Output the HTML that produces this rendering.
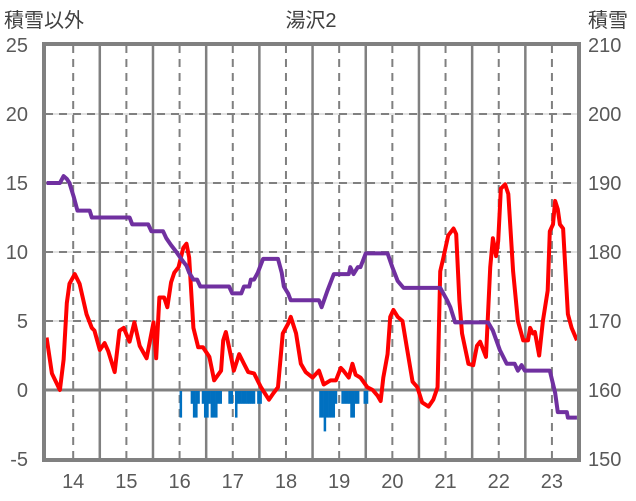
<!DOCTYPE html>
<html><head><meta charset="utf-8"><style>
html,body{margin:0;padding:0;background:#fff;}
svg{display:block;font-family:"Liberation Sans","Noto Sans CJK JP",sans-serif;}
</style></head><body>
<svg id="chart" width="636" height="501" viewBox="0 0 636 501" xmlns="http://www.w3.org/2000/svg">
<text x="311" y="27" font-size="20" fill="#404040" text-anchor="middle">湯沢2</text>
<text x="4" y="27" font-size="20" fill="#404040">積雪以外</text>
<text x="588" y="27" font-size="20" fill="#404040">積雪</text>
<g id="grid"></g>
<g id="bars"></g>
<g id="lines"></g>
<g id="axes"></g>
</svg>
<script>
const dayTicks=[14,15,16,17,18,19,20,21,22,23];
const leftTicks=[25,20,15,10,5,0,-5];
const rightTicks=[210,200,190,180,170,160,150];
const redTimes=[13.50,13.60,13.75,13.82,13.88,13.93,14.03,14.12,14.25,14.35,14.40,14.50,14.59,14.66,14.78,14.87,14.95,15.06,15.15,15.25,15.38,15.51,15.56,15.62,15.71,15.77,15.84,15.90,15.98,16.07,16.13,16.18,16.26,16.35,16.44,16.56,16.65,16.78,16.82,16.87,16.93,17.02,17.12,17.21,17.29,17.40,17.53,17.68,17.77,17.85,17.94,18.04,18.09,18.19,18.28,18.37,18.50,18.62,18.71,18.84,18.94,19.03,19.08,19.18,19.25,19.31,19.40,19.53,19.63,19.72,19.78,19.83,19.91,19.96,20.02,20.10,20.19,20.28,20.38,20.47,20.56,20.68,20.77,20.85,20.90,20.96,21.05,21.15,21.20,21.26,21.31,21.37,21.43,21.52,21.59,21.65,21.76,21.84,21.89,21.95,21.99,22.04,22.12,22.18,22.27,22.36,22.46,22.55,22.59,22.64,22.68,22.76,22.83,22.92,22.96,23.02,23.06,23.11,23.15,23.21,23.30,23.37,23.47];
const redValues=[3.8,1.2,0,2.2,6.3,7.7,8.4,7.7,5.5,4.5,4.3,2.9,3.4,2.8,1.3,4.3,4.5,3.5,4.9,3.2,2.3,4.9,2.3,6.7,6.7,6.0,7.8,8.5,8.9,10.3,10.6,9.6,4.5,3.1,3.1,2.4,0.7,1.4,3.6,4.2,3.1,1.4,2.6,1.9,1.3,1.2,0.2,-0.7,-0.2,0.2,4.1,4.8,5.3,4.1,1.9,1.3,0.9,1.4,0.4,0.7,0.7,1.6,1.4,0.9,1.9,1.1,0.9,0.2,0,-0.4,-0.8,0.9,2.6,5.3,5.8,5.3,5.0,2.9,0.6,0.2,-0.9,-1.2,-0.7,0.2,8.6,9.6,11.2,11.7,11.3,6.5,4.1,3.0,1.9,1.8,3.2,3.5,2.4,8.9,11.0,9.7,10.8,14.6,14.9,14.2,8.6,5.0,3.6,3.6,4.5,4.1,4.2,2.5,5.0,7.2,11.5,12.0,13.7,13.1,12.0,11.7,5.5,4.5,3.6];
const depthTimes=[13.50,13.75,13.82,13.88,13.93,14.01,14.08,14.31,14.35,15.06,15.11,15.41,15.47,15.69,15.75,15.84,15.94,16.03,16.13,16.18,16.26,16.33,16.39,16.93,16.99,17.16,17.21,17.31,17.34,17.40,17.47,17.57,17.85,17.92,17.96,18.04,18.09,18.62,18.67,18.78,18.90,19.18,19.21,19.27,19.35,19.40,19.50,19.91,20.00,20.10,20.21,20.90,21.03,21.09,21.18,21.80,21.89,22.02,22.15,22.30,22.36,22.43,22.49,22.96,23.06,23.11,23.28,23.30,23.47];
const depthValues=[190,190,191,190.6,190,188,186,186,185,185,184,184,183,183,182,181,180,179,178,177,176,176,175,175,174,174,175,175,176,176,177,179,179,177,175,174,173,173,172,174.4,176.8,176.8,177.8,176.8,177.8,177.8,179.8,179.8,177.8,175.8,174.8,174.8,173,172,169.8,169.8,168.6,165.8,163.8,163.8,162.8,163.6,162.8,162.8,159.6,156.8,156.8,156,156];
const barDays=[16,16,16,16,16,16,16,16,16,16,16,16,16,16,16,16,17,17,17,17,17,17,17,17,17,17,17,18,18,18,18,18,18,18,18,19,19,19,19,19,19,19,19,19,19];
const barHours=[5,6,7,8,10,11,12,13,14,15,16,17,18,22,23,0,1,2,3,4,5,6,7,8,9,11,12,15,16,17,18,19,20,21,22,1,2,3,4,5,6,7,8,11,12];
const barValues=[-1,-2,-2,-1,-1,-2,-2,-1,-2,-2,-2,-1,-1,-1,-1,-2,-2,-1,-1,-1,-1,-1,-1,-1,-1,-1,-1,-2,-2,-3,-2,-2,-2,-2,-1,-1,-1,-1,-1,-2,-2,-1,-1,-1,-1];

const NS='http://www.w3.org/2000/svg';
const L=45,R=578,T=45,B=459;
const tMin=13.47,tMax=23.49;
const X=t=>L+(t-tMin)/(tMax-tMin)*(R-L);
const Y=v=>B-(v+5)/30*(B-T);
const YR=d=>B-(d-150)/60*(B-T);
function mk(tag,attrs,parent){const e=document.createElementNS(NS,tag);for(const k in attrs)e.setAttribute(k,attrs[k]);parent.appendChild(e);return e;}
const grid=document.getElementById('grid'),bars=document.getElementById('bars'),lines=document.getElementById('lines'),axes=document.getElementById('axes');
leftTicks.forEach(v=>{
  if(v===25||v===-5||v===0)return;
  const a=mk('line',{x1:L,x2:R,y1:Y(v),y2:Y(v),stroke:'#d9d9d9','stroke-width':1.5},grid);
  
  
  const b=mk('line',{x1:L,x2:R,y1:Y(v),y2:Y(v),stroke:'#808080','stroke-width':2,'stroke-dasharray':'8,6'},grid);
  
  
});
dayTicks.forEach(d=>{
  const a=mk('line',{x1:X(d),x2:X(d),y1:T,y2:B,stroke:'#808080','stroke-width':2,'stroke-dasharray':'8,6'},grid);
  
  
  if(d+0.5<tMax){
    const b=mk('line',{x1:X(d+0.5),x2:X(d+0.5),y1:T,y2:B,stroke:'#808080','stroke-width':2.5},grid);
    
    
  }
  const t=mk('text',{x:X(d),y:488,'font-size':20,fill:'#595959','text-anchor':'middle'},axes);
  t.textContent=d;
  
  
});
{const a=mk('line',{x1:L,x2:R,y1:Y(0),y2:Y(0),stroke:'#808080','stroke-width':3},grid);

}
const bw=(X(1)-X(0))/24;
barValues.forEach((v,i)=>{
  const t=barDays[i]+barHours[i]/24;
  const r=mk('rect',{x:X(t),y:Y(0)+1,width:bw+0.3,height:Y(v)-Y(0)-1,fill:'#0070c0'},bars);
  
  
});
const pr=mk('polyline',{points:redTimes.map((t,i)=>X(t)+','+Y(redValues[i])).join(' '),fill:'none',stroke:'#ff0000','stroke-width':4,'stroke-linejoin':'round'},lines);


const pp=mk('polyline',{points:depthTimes.map((t,i)=>X(t)+','+YR(depthValues[i])).join(' '),fill:'none',stroke:'#7030a0','stroke-width':4,'stroke-linejoin':'round'},lines);


{const f=mk('rect',{x:L-1,y:T-1,width:R-L+2,height:B-T+2,fill:'none',stroke:'#808080','stroke-width':4},axes);

}
leftTicks.forEach(v=>{
  const t=mk('text',{x:28,y:Y(v)+7,'font-size':20,fill:'#595959','text-anchor':'end'},axes);
  t.textContent=v;
  
  
});
rightTicks.forEach(v=>{
  const t=mk('text',{x:588,y:YR(v)+7,'font-size':20,fill:'#595959'},axes);
  t.textContent=v;
  
  
});
</script>
</body></html>
